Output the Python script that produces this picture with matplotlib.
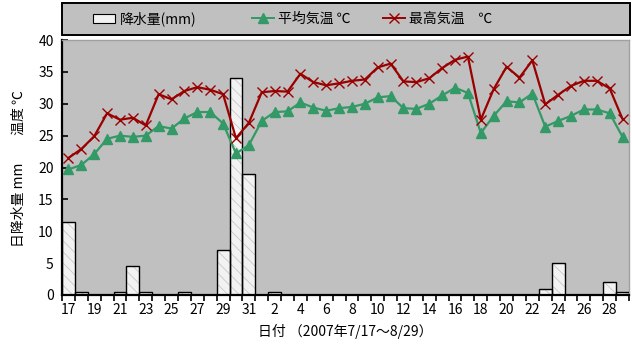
import matplotlib
matplotlib.use('Agg')
import matplotlib.pyplot as plt
from matplotlib.patches import Patch, Rectangle
from matplotlib.lines import Line2D
import numpy as np

plt.rcParams['font.family'] = ['Noto Sans CJK JP', 'DejaVu Sans']
plt.rcParams['hatch.linewidth'] = 0.6

# days 2007/7/17 - 8/29
days = list(range(17, 32)) + list(range(1, 30))

# daily rainfall (mm)
rain = [11.5, 0.5, 0, 0, 0.5, 4.5, 0.5, 0, 0, 0.5, 0, 0, 7.0, 34.0, 19.0,
        0, 0.5, 0, 0, 0, 0, 0, 0, 0, 0, 0, 0, 0, 0, 0,
        0, 0, 0, 0, 0, 0, 0, 1.0, 5.0, 0, 0, 0, 2.0, 0.5]

# mean temperature
t_mean = [19.7, 20.4, 22.1, 24.5, 25.0, 24.8, 25.0, 26.5, 26.1, 27.7, 28.7, 28.7, 26.9, 22.2, 23.5,
          27.3, 28.7, 28.8, 30.2, 29.4, 28.9, 29.3, 29.5, 30.0, 31.0, 31.2, 29.3, 29.2, 30.0,
          31.3, 32.5, 31.7, 25.4, 28.1, 30.4, 30.2, 31.6, 26.4, 27.3, 28.1, 29.1, 29.1, 28.5, 24.8]

# max temperature
t_max = [21.5, 22.9, 24.9, 28.5, 27.5, 27.8, 26.6, 31.5, 30.7, 32.0, 32.6, 32.2, 31.5, 24.6, 27.0,
         31.8, 32.0, 31.9, 34.7, 33.4, 32.9, 33.2, 33.6, 33.8, 35.7, 36.3, 33.5, 33.4, 34.0,
         35.6, 36.9, 37.4, 27.5, 32.3, 35.8, 34.1, 36.8, 29.9, 31.4, 32.8, 33.6, 33.6, 32.4, 27.6]

legend_labels = ['降水量(mm)', '平均気温 ℃', '最高気温　℃']

x = np.arange(len(days))
bg = '#c0c0c0'
green = '#339966'
red = '#990000'
W, H = 632, 351

fig = plt.figure(figsize=(W/100, H/100), dpi=100)
ax = fig.add_axes([62/W, 1-295/H, 567/W, 255/H])
ax.set_facecolor(bg)

# rain bars: light fill with faint streaks, then black outline
ax.bar(x, rain, width=1.0, color='#f2f2f2', edgecolor='#c8c8c8', hatch='\\\\\\', linewidth=0, zorder=2)
ax.bar(x, rain, width=1.0, color='none', edgecolor='black', linewidth=1.0, zorder=3)

ax.plot(x, t_mean, color=green, marker='^', markersize=7, linewidth=1.6, zorder=4)
ax.plot(x, t_max, color=red, marker='x', markersize=7, markeredgewidth=1.0, linewidth=1.6, zorder=5)

ax.set_xlim(-0.5, len(days) - 0.5)
ax.set_ylim(0, 40)
ax.set_yticks(range(0, 41, 5))
ax.tick_params(axis='y', direction='in', length=4, width=1.2, labelsize=10, pad=6)

# tick marks at day boundaries, labels at centres every second day
ax.set_xticks(np.arange(-0.5, len(days), 1.0))
ax.set_xticklabels([])
ax.tick_params(axis='x', which='major', direction='out', length=4, width=1.2)
ax.set_xticks(x[::2], minor=True)
ax.set_xticklabels([str(d) for d in days[::2]], minor=True)
ax.tick_params(axis='x', which='minor', length=0, labelsize=10, pad=6)

for s in ['left', 'bottom']:
    ax.spines[s].set_linewidth(1.6)
    ax.spines[s].set_color('black')
for s in ['top', 'right']:
    ax.spines[s].set_linewidth(1.0)
    ax.spines[s].set_color('#a0a0a0')

ax.set_xlabel('日付 （2007年7/17～8/29）', fontsize=10, labelpad=5)
fig.text(0.030, 0.52, '日降水量 mm　　温度 ℃', rotation=90, ha='center', va='center', fontsize=10)

# legend box across the top
fig.patches.append(Rectangle((62/W, 1-35/H), 568/W, 32/H, transform=fig.transFigure,
                             facecolor=bg, edgecolor='black', linewidth=1.4, zorder=0))

handles = [Patch(facecolor='#f2f2f2', edgecolor='black', linewidth=0.8),
           Line2D([], [], color=green, marker='^', markersize=7, linewidth=1.4),
           Line2D([], [], color=red, marker='x', markersize=7, linewidth=1.4)]
for h, lab, px in zip(handles, legend_labels, [93, 252, 383]):
    leg = fig.legend([h], [lab], loc='center left', bbox_to_anchor=(px/W, 1-19/H),
                     frameon=False, fontsize=10, handlelength=1.6, handletextpad=0.3,
                     borderaxespad=0, borderpad=0)

fig.savefig('out.png', dpi=100)
